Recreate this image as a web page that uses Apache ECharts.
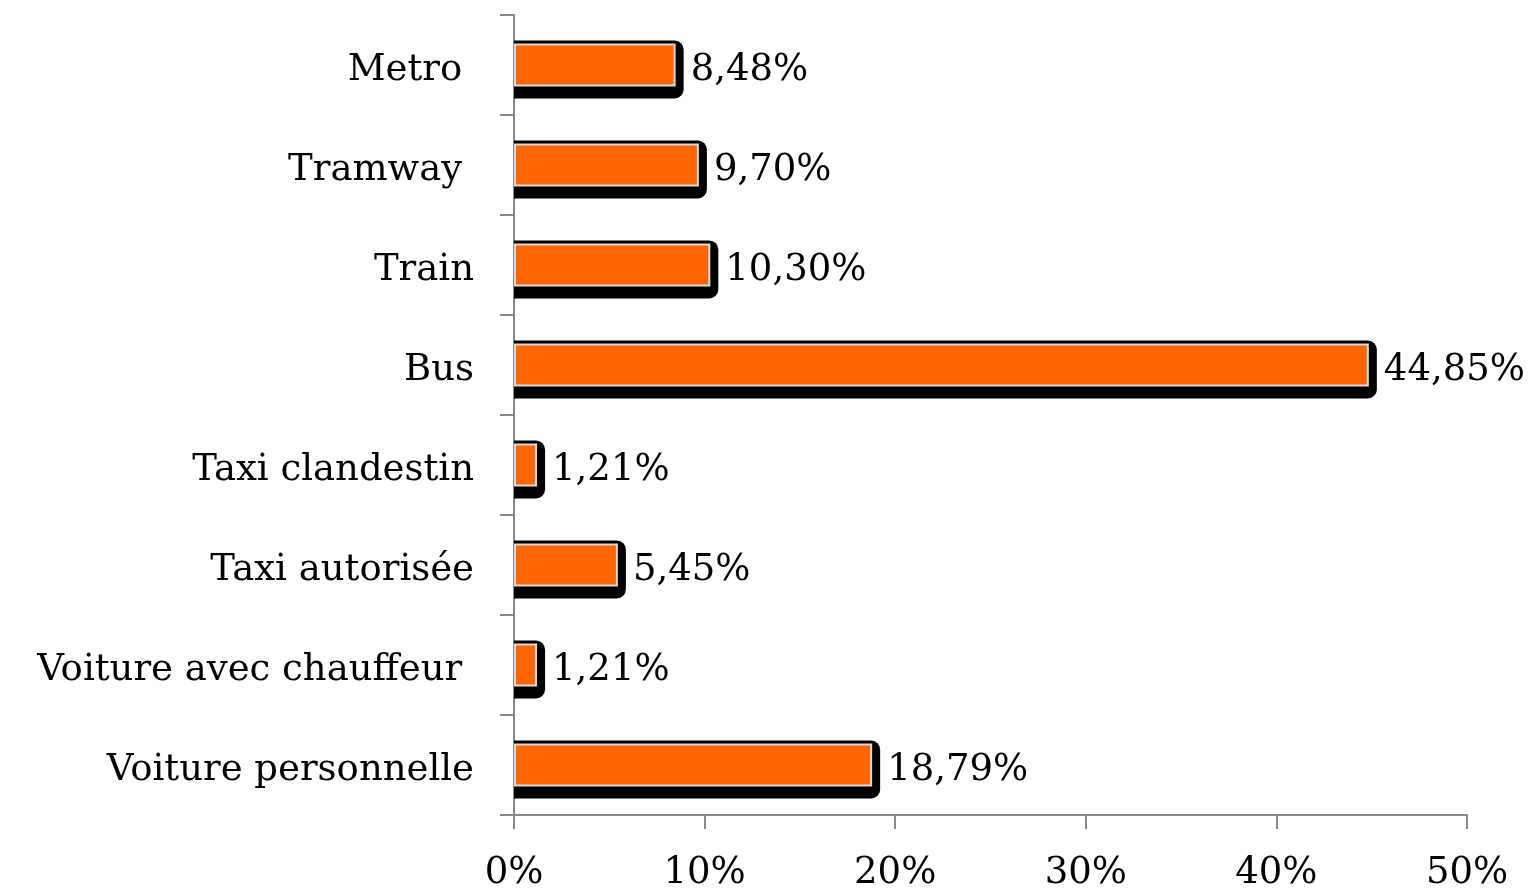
<!DOCTYPE html>
<html>
<head>
<meta charset="utf-8">
<script src="https://cdn.jsdelivr.net/npm/echarts@6/dist/echarts.min.js"></script>
<style>
  html, body { margin: 0; padding: 0; background: #fff; }
  #chart { width: 1533px; height: 892px; }
</style>
</head>
<body>
<div id="chart"></div>
<script>
// modes de transport, de haut en bas
var categories = ['Metro ', 'Tramway ', 'Train', 'Bus', 'Taxi clandestin', 'Taxi autorisée', 'Voiture avec chauffeur ', 'Voiture personnelle'];
var values = [8.48, 9.70, 10.30, 44.85, 1.21, 5.45, 1.21, 18.79];
var xTicks = [0, 10, 20, 30, 40, 50];

var font = 'DejaVu Serif';
var fontSize = 37;
var axisGrey = '#898989';
var barH = 43;

var myChart = echarts.init(document.getElementById('chart'));

// ombre noire arrondie derriere chaque barre
function renderShadow(params, api) {
    var start = api.coord([0, api.value(1)]);
    var end = api.coord([api.value(0), api.value(1)]);
    return {
        type: 'rect',
        shape: {
            x: start[0],
            y: start[1] - barH / 2 - 3,
            width: end[0] - start[0] + 8,
            height: barH + 15,
            r: [0, 9, 9, 0]
        },
        style: { fill: '#000' }
    };
}

var option = {
    animation: false,
    grid: {
        left: 514,
        right: 66,
        top: 15,
        bottom: 76,
        containLabel: false
    },
    xAxis: {
        type: 'value',
        min: xTicks[0],
        max: xTicks[xTicks.length - 1],
        interval: 10,
        axisLine: { show: true, lineStyle: { color: axisGrey, width: 2 } },
        axisTick: { show: true, length: 14, lineStyle: { color: axisGrey, width: 2 } },
        splitLine: { show: false },
        axisLabel: {
            formatter: '{value}%',
            fontFamily: font,
            fontSize: fontSize,
            color: '#000',
            margin: 40
        }
    },
    yAxis: {
        type: 'category',
        inverse: true,
        data: categories,
        axisLine: { show: true, lineStyle: { color: axisGrey, width: 2 } },
        axisTick: { show: true, length: 14, lineStyle: { color: axisGrey, width: 2 } },
        axisLabel: {
            margin: 40,
            formatter: function (v) { return '{c|' + v + '}'; },
            rich: {
                c: {
                    fontFamily: font,
                    fontSize: fontSize,
                    color: '#000',
                    padding: [10, 0, 0, 0]
                }
            }
        }
    },
    series: [
        {
            type: 'custom',
            renderItem: renderShadow,
            encode: { x: 0, y: 1 },
            data: values.map(function (v, i) { return [v, i]; }),
            z: 1,
            silent: true
        },
        {
            type: 'bar',
            data: values,
            barWidth: barH,
            z: 2,
            itemStyle: {
                color: '#FF6600',
                borderColor: '#D9D9D9',
                borderWidth: 2
            },
            label: {
                show: true,
                position: 'right',
                distance: 15,
                offset: [0, 5],
                fontFamily: font,
                fontSize: fontSize,
                color: '#000',
                formatter: function (p) {
                    return p.value.toFixed(2).replace('.', ',') + '%';
                }
            }
        }
    ]
};

myChart.setOption(option);
</script>
</body>
</html>
